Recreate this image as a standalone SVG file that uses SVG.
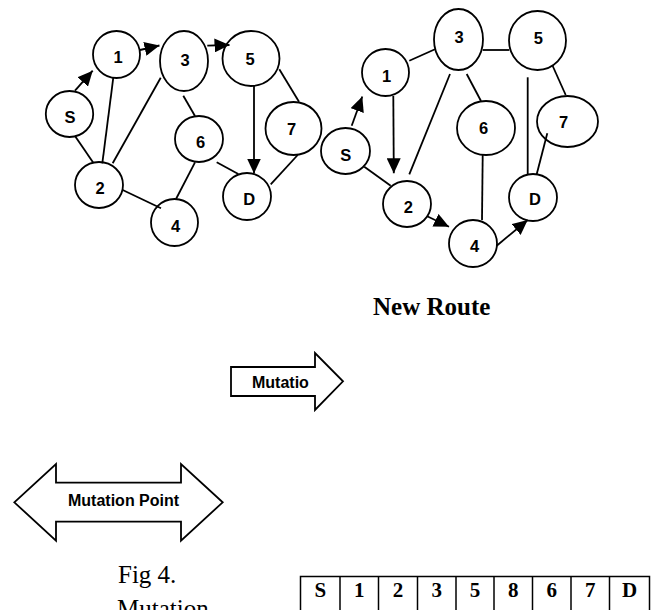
<svg xmlns="http://www.w3.org/2000/svg" width="660" height="610" viewBox="0 0 660 610">
<style>
.n ellipse{fill:#fff;stroke:#000;stroke-width:1.8}
.n text{font-family:"Liberation Sans",Arial,sans-serif;font-weight:bold;font-size:16.5px;text-anchor:middle;fill:#000}
.c line{stroke:#000;stroke-width:1.8;fill:none}
.c .a{marker-end:url(#ah)}
.blk{fill:#fff;stroke:#000;stroke-width:1.8;stroke-linejoin:miter}
.bl{font-family:"Liberation Sans",Arial,sans-serif;font-weight:bold;font-size:16px;fill:#000}
.ser{font-family:"Liberation Serif","Times New Roman",serif;fill:#000}
.cell{font-family:"Liberation Serif","Times New Roman",serif;font-weight:bold;font-size:21px;text-anchor:middle;fill:#000}
.tb{fill:none;stroke:#000;stroke-width:1.5}
</style>
<defs>
<marker id="ah" markerUnits="userSpaceOnUse" markerWidth="15" markerHeight="14" viewBox="0 0 15 14" refX="15" refY="7" orient="auto">
<path d="M0,0 L15,7 L0,14 z" fill="#000"/>
</marker>
</defs>
<rect width="660" height="610" fill="#fff"/>

<!-- Left graph nodes -->
<g id="L-S" class="n"><ellipse cx="69.5" cy="114" rx="23.7" ry="23"/><text x="70" y="122.5">S</text></g>
<g id="L-1" class="n"><ellipse cx="116.5" cy="54.5" rx="23.5" ry="23.5"/><text x="118" y="63.3">1</text></g>
<g id="L-3" class="n"><ellipse cx="184" cy="61" rx="24" ry="30"/><text x="185" y="65.7">3</text></g>
<g id="L-5" class="n"><ellipse cx="251" cy="58.5" rx="28.5" ry="27.5"/><text x="250" y="64.5">5</text></g>
<g id="L-7" class="n"><ellipse cx="293.5" cy="128.5" rx="28" ry="26.5"/><text x="291.7" y="135">7</text></g>
<g id="L-6" class="n"><ellipse cx="199" cy="139" rx="24" ry="23"/><text x="200.5" y="148.3">6</text></g>
<g id="L-2" class="n"><ellipse cx="99" cy="185" rx="24" ry="23"/><text x="100" y="194.3">2</text></g>
<g id="L-4" class="n"><ellipse cx="174.5" cy="222.5" rx="23.5" ry="23.5"/><text x="175.5" y="231.7">4</text></g>
<g id="L-D" class="n"><ellipse cx="247" cy="196.5" rx="24" ry="23.5"/><text x="249.3" y="205">D</text></g>

<!-- Right graph nodes -->
<g id="R-3" class="n"><ellipse cx="458.5" cy="39.5" rx="24.5" ry="30.5"/><text x="459" y="42.7">3</text></g>
<g id="R-5" class="n"><ellipse cx="537.5" cy="40.5" rx="28.5" ry="29.5"/><text x="538.3" y="44.3">5</text></g>
<g id="R-1" class="n"><ellipse cx="385.5" cy="72.5" rx="23.5" ry="23.5"/><text x="386.7" y="81.7">1</text></g>
<g id="R-S" class="n"><ellipse cx="345.5" cy="151" rx="24.5" ry="23"/><text x="345.8" y="160.7">S</text></g>
<g id="R-6" class="n"><ellipse cx="486" cy="128" rx="29" ry="27"/><text x="483.5" y="134.3">6</text></g>
<g id="R-7" class="n"><ellipse cx="567.5" cy="121.5" rx="30.5" ry="25.5"/><text x="563.5" y="128.3">7</text></g>
<g id="R-2" class="n"><ellipse cx="407" cy="204" rx="24" ry="23"/><text x="408.3" y="212.7">2</text></g>
<g id="R-4" class="n"><ellipse cx="473" cy="243.5" rx="24" ry="23.5"/><text x="474.7" y="252.3">4</text></g>
<g id="R-D" class="n"><ellipse cx="533" cy="197.5" rx="24" ry="23.5"/><text x="535" y="205">D</text></g>

<!-- Connectors -->
<g id="connectors" class="c">
<line class="a" x1="75" y1="90.7" x2="92.7" y2="70.7"/>
<line class="a" x1="140" y1="50" x2="159.5" y2="45.5"/>
<line class="a" x1="207.3" y1="45.7" x2="229.5" y2="45"/>
<line class="a" x1="254" y1="86" x2="254" y2="173.5"/>
<line x1="279.3" y1="69.3" x2="299" y2="101.7"/>
<line x1="297.7" y1="155" x2="270.7" y2="184.3"/>
<line x1="216.7" y1="162.3" x2="238.3" y2="174"/>
<line x1="183.3" y1="95.7" x2="195" y2="116"/>
<line x1="195" y1="162.3" x2="176" y2="199"/>
<line x1="122.7" y1="190" x2="161" y2="208.3"/>
<line x1="75" y1="136" x2="93.3" y2="162.7"/>
<line x1="113.3" y1="77.7" x2="102.3" y2="163.3"/>
<line x1="160.7" y1="77.7" x2="112.7" y2="163.3"/>

<line class="a" x1="351.7" y1="125.7" x2="362.3" y2="96.5"/>
<line class="a" x1="393.3" y1="96" x2="393.8" y2="173.3"/>
<line class="a" x1="426.7" y1="216" x2="449" y2="226.7"/>
<line class="a" x1="496.7" y1="245.7" x2="527.7" y2="220"/>
<line x1="409.3" y1="60.7" x2="435" y2="49.3"/>
<line x1="482.7" y1="50" x2="509.3" y2="50"/>
<line x1="552.7" y1="66" x2="565.7" y2="95"/>
<line x1="527.7" y1="77.3" x2="527.7" y2="174"/>
<line x1="547.3" y1="133.3" x2="536.7" y2="174.3"/>
<line x1="466.7" y1="74" x2="481" y2="101"/>
<line x1="482.7" y1="155" x2="482" y2="220"/>
<line x1="450" y1="74" x2="409.3" y2="174.3"/>
<line x1="364.3" y1="166.7" x2="390.7" y2="185.7"/>
</g>

<text class="ser" x="373" y="315" font-size="25" font-weight="bold">New Route</text>

<g id="mutatio-arrow">
<polygon class="blk" points="231,367 315,367 315,353 343,381.3 315,410 315,396 231,396"/>
<text class="bl" x="252" y="388.3">Mutatio</text>
</g>

<g id="mutation-point">
<polygon class="blk" points="14.3,502.3 56,464 56,482.7 181,482.7 181,464 222.7,502.3 181,540.7 181,521.7 56,521.7 56,540.7"/>
<text class="bl" x="68" y="505.5">Mutation Point</text>
</g>

<text class="ser" x="118" y="583.3" font-size="25">Fig 4.</text>
<text class="ser" x="117" y="616.5" font-size="25">Mutation</text>

<g id="table">
<rect class="tb" x="300.5" y="576.5" width="349" height="50"/>
<line class="tb" x1="340" y1="576.5" x2="340" y2="620"/>
<line class="tb" x1="378.5" y1="576.5" x2="378.5" y2="620"/>
<line class="tb" x1="417.5" y1="576.5" x2="417.5" y2="620"/>
<line class="tb" x1="456" y1="576.5" x2="456" y2="620"/>
<line class="tb" x1="494" y1="576.5" x2="494" y2="620"/>
<line class="tb" x1="532.5" y1="576.5" x2="532.5" y2="620"/>
<line class="tb" x1="571" y1="576.5" x2="571" y2="620"/>
<line class="tb" x1="609.5" y1="576.5" x2="609.5" y2="620"/>
<text class="cell" x="320.3" y="596.5">S</text>
<text class="cell" x="359.3" y="596.5">1</text>
<text class="cell" x="398" y="596.5">2</text>
<text class="cell" x="436.8" y="596.5">3</text>
<text class="cell" x="475" y="596.5">5</text>
<text class="cell" x="513.3" y="596.5">8</text>
<text class="cell" x="551.8" y="596.5">6</text>
<text class="cell" x="590.3" y="596.5">7</text>
<text class="cell" x="629.5" y="596.5">D</text>
</g>
</svg>
